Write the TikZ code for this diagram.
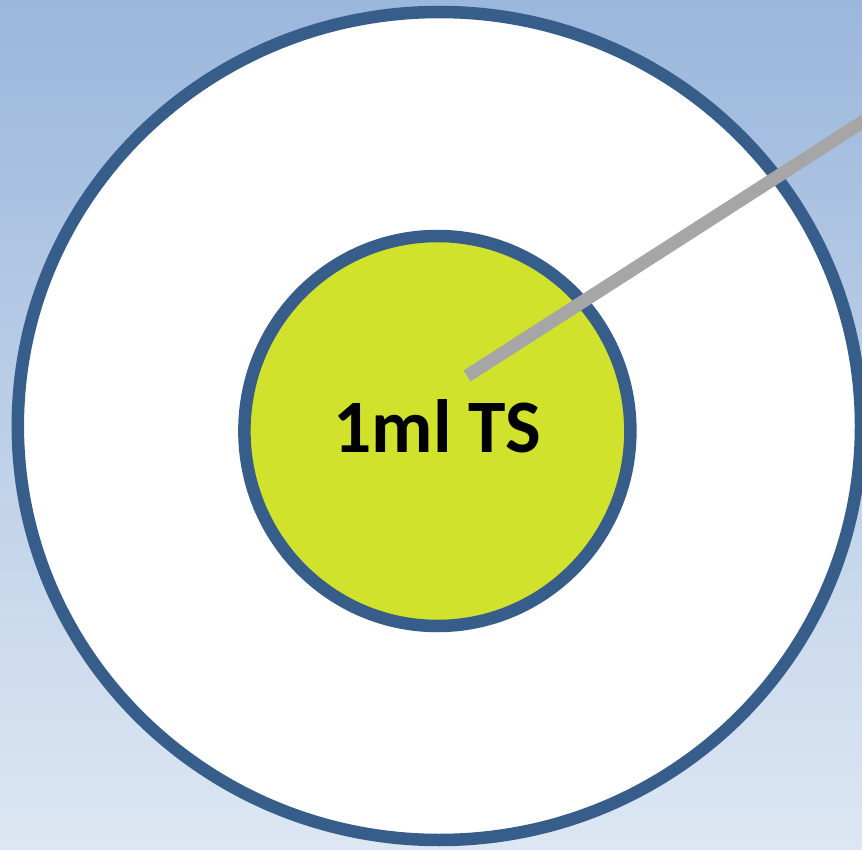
\documentclass[tikz,border=0pt]{standalone}
\usepackage{fontspec}
\setmainfont{Carlito}
\definecolor{bgtop}{HTML}{9BB7DC}
\definecolor{bgbot}{HTML}{DDE7F3}
\definecolor{ringblue}{HTML}{375D8B}
\definecolor{limefill}{HTML}{D0E22B}
\definecolor{rodgray}{HTML}{A6A6A6}
\begin{document}
\begin{tikzpicture}[x=1pt,y=-1pt,
  ring/.style={draw=ringblue,line width=12.5pt},
  rod/.style={draw=rodgray,line width=13pt,line cap=butt}]
\useasboundingbox (0,0) rectangle (862,850);
\clip (0,0) rectangle (862,850);
\shade[top color=bgtop,bottom color=bgbot] (0,0) rectangle (862,850);
\draw[ring,fill=white] (439.4,426) ellipse [x radius=421.6,y radius=414];
\draw[ring,fill=limefill] (437.4,431) ellipse [x radius=193,y radius=195];
\node[font=\bfseries\fontsize{75.5}{76}\selectfont,inner sep=0pt,anchor=base] (label) at (437.5,452) {1ml TS};
\coordinate (rodtip) at (467,376);
\coordinate (rodend) at (920,85);
\draw[rod] (rodtip) -- (rodend);
\end{tikzpicture}
\end{document}
